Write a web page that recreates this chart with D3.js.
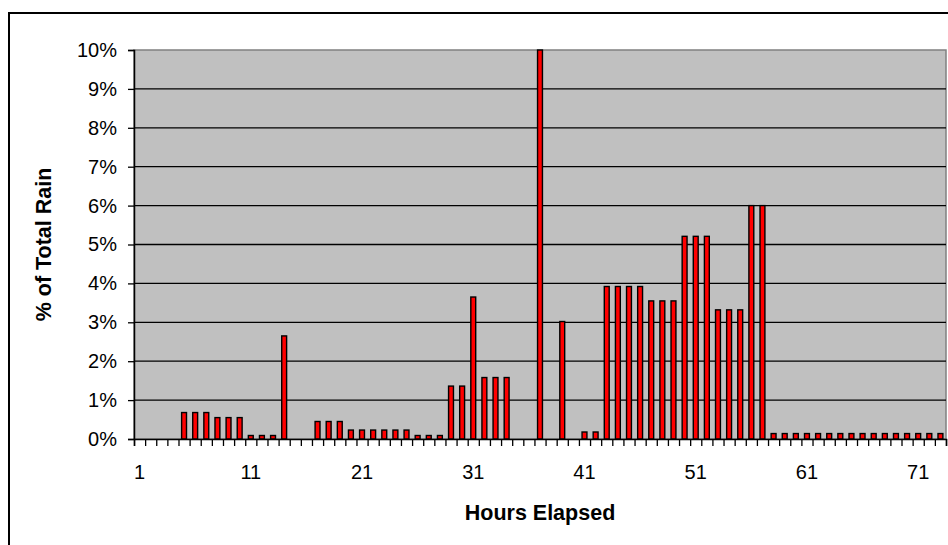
<!DOCTYPE html>
<html>
<head>
<meta charset="utf-8">
<script src="https://cdn.jsdelivr.net/npm/d3@7"></script>
<style>
  html, body { margin: 0; padding: 0; background: #fff; }
  svg { display: block; font-family: "Liberation Sans", Arial, sans-serif; }
</style>
</head>
<body>
<svg id="chart" width="948" height="545"></svg>
<script>
// Hourly rainfall distribution, hours 1..73
const hours = d3.range(1, 74);
const rainPct = [
  0, 0, 0, 0,
  0.68, 0.68, 0.68,
  0.55, 0.55, 0.55,
  0.09, 0.09, 0.09,
  2.65,
  0, 0,
  0.45, 0.45, 0.45,
  0.23, 0.23, 0.23, 0.23, 0.23, 0.23,
  0.09, 0.09, 0.09,
  1.36, 1.36,
  3.65,
  1.58, 1.58, 1.58,
  0, 0,
  10.0,
  0,
  3.02,
  0,
  0.18, 0.18,
  3.92, 3.92, 3.92, 3.92,
  3.55, 3.55, 3.55,
  5.21, 5.21, 5.21,
  3.32, 3.32, 3.32,
  6.0, 6.0,
  0.14, 0.14, 0.14, 0.14, 0.14, 0.14, 0.14, 0.14,
  0.14, 0.14, 0.14, 0.14, 0.14, 0.14, 0.14, 0.14
];
const yTicks = [0, 1, 2, 3, 4, 5, 6, 7, 8, 9, 10];
const xLabelHours = [1, 11, 21, 31, 41, 51, 61, 71];
const xTitle = "Hours Elapsed";
const yTitle = "% of Total Rain";

const data = hours.map((h, i) => ({ hour: h, value: rainPct[i] }));

const svg = d3.select("#chart");
const plot = { left: 134, right: 946, top: 50, bottom: 439 };

// outer chart frame (runs past the right and bottom edges)
svg.append("rect")
  .attr("x", 9).attr("y", 13)
  .attr("width", 1000).attr("height", 600)
  .attr("fill", "#fff").attr("stroke", "#000").attr("stroke-width", 2);

const x = d3.scaleBand()
  .domain(hours)
  .range([plot.left, plot.right])
  .paddingInner(0.56)
  .paddingOuter(0.28);

// category boundaries for the tick marks
const xEdge = d3.scaleLinear()
  .domain([0.5, hours.length + 0.5])
  .range([plot.left, plot.right]);

const y = d3.scaleLinear().domain([0, 10]).range([plot.bottom, plot.top]);

// plot background
svg.append("rect")
  .attr("x", plot.left).attr("y", plot.top)
  .attr("width", plot.right - plot.left).attr("height", plot.bottom - plot.top)
  .attr("fill", "#c0c0c0").attr("stroke", "#808080").attr("stroke-width", 1.5);

// horizontal gridlines
svg.append("g")
  .selectAll("line")
  .data(yTicks.filter(t => t > 0 && t < 10))
  .join("line")
  .attr("x1", plot.left).attr("x2", plot.right)
  .attr("y1", d => y(d)).attr("y2", d => y(d))
  .attr("stroke", "#000").attr("stroke-width", 1.3);

// bars
svg.append("g")
  .selectAll("rect")
  .data(data.filter(d => d.value > 0))
  .join("rect")
  .attr("x", d => x(d.hour))
  .attr("width", x.bandwidth())
  .attr("y", d => y(d.value))
  .attr("height", d => y(0) - y(d.value))
  .attr("fill", "#ff0000")
  .attr("stroke", "#000")
  .attr("stroke-width", 1.4);

// y axis
const yAxis = svg.append("g")
  .attr("transform", `translate(${plot.left},0)`)
  .call(d3.axisLeft(y).tickValues(yTicks).tickSize(6).tickPadding(11)
    .tickFormat(d => d + "%"));
yAxis.select(".domain").attr("stroke", "#000").attr("stroke-width", 1.5);
yAxis.selectAll(".tick line").attr("stroke", "#000").attr("stroke-width", 1.3);
yAxis.selectAll(".tick text").attr("font-size", 20).attr("fill", "#000")
  .attr("font-family", "Liberation Sans, Arial, sans-serif");

// x axis: tick marks between categories
const xTicks = svg.append("g")
  .attr("transform", `translate(0,${plot.bottom})`)
  .call(d3.axisBottom(xEdge).tickValues(d3.range(0.5, hours.length + 1, 1))
    .tickSize(7).tickFormat(""));
xTicks.select(".domain").attr("stroke", "#000").attr("stroke-width", 1.5);
xTicks.selectAll(".tick line").attr("stroke", "#000").attr("stroke-width", 1.3);

// x axis labels every ten hours
const xLabels = svg.append("g")
  .attr("transform", `translate(0,${plot.bottom})`)
  .call(d3.axisBottom(x).tickValues(xLabelHours).tickSize(0).tickPadding(26));
xLabels.select(".domain").remove();
xLabels.selectAll(".tick text").attr("font-size", 20).attr("fill", "#000")
  .attr("font-family", "Liberation Sans, Arial, sans-serif");

// axis titles
svg.append("text")
  .attr("x", (plot.left + plot.right) / 2)
  .attr("y", 520)
  .attr("text-anchor", "middle")
  .attr("font-size", 21.5).attr("font-weight", "bold")
  .text(xTitle);

svg.append("text")
  .attr("transform", `translate(51,${(plot.top + plot.bottom) / 2}) rotate(-90)`)
  .attr("text-anchor", "middle")
  .attr("font-size", 21.5).attr("font-weight", "bold")
  .text(yTitle);
</script>
</body>
</html>
